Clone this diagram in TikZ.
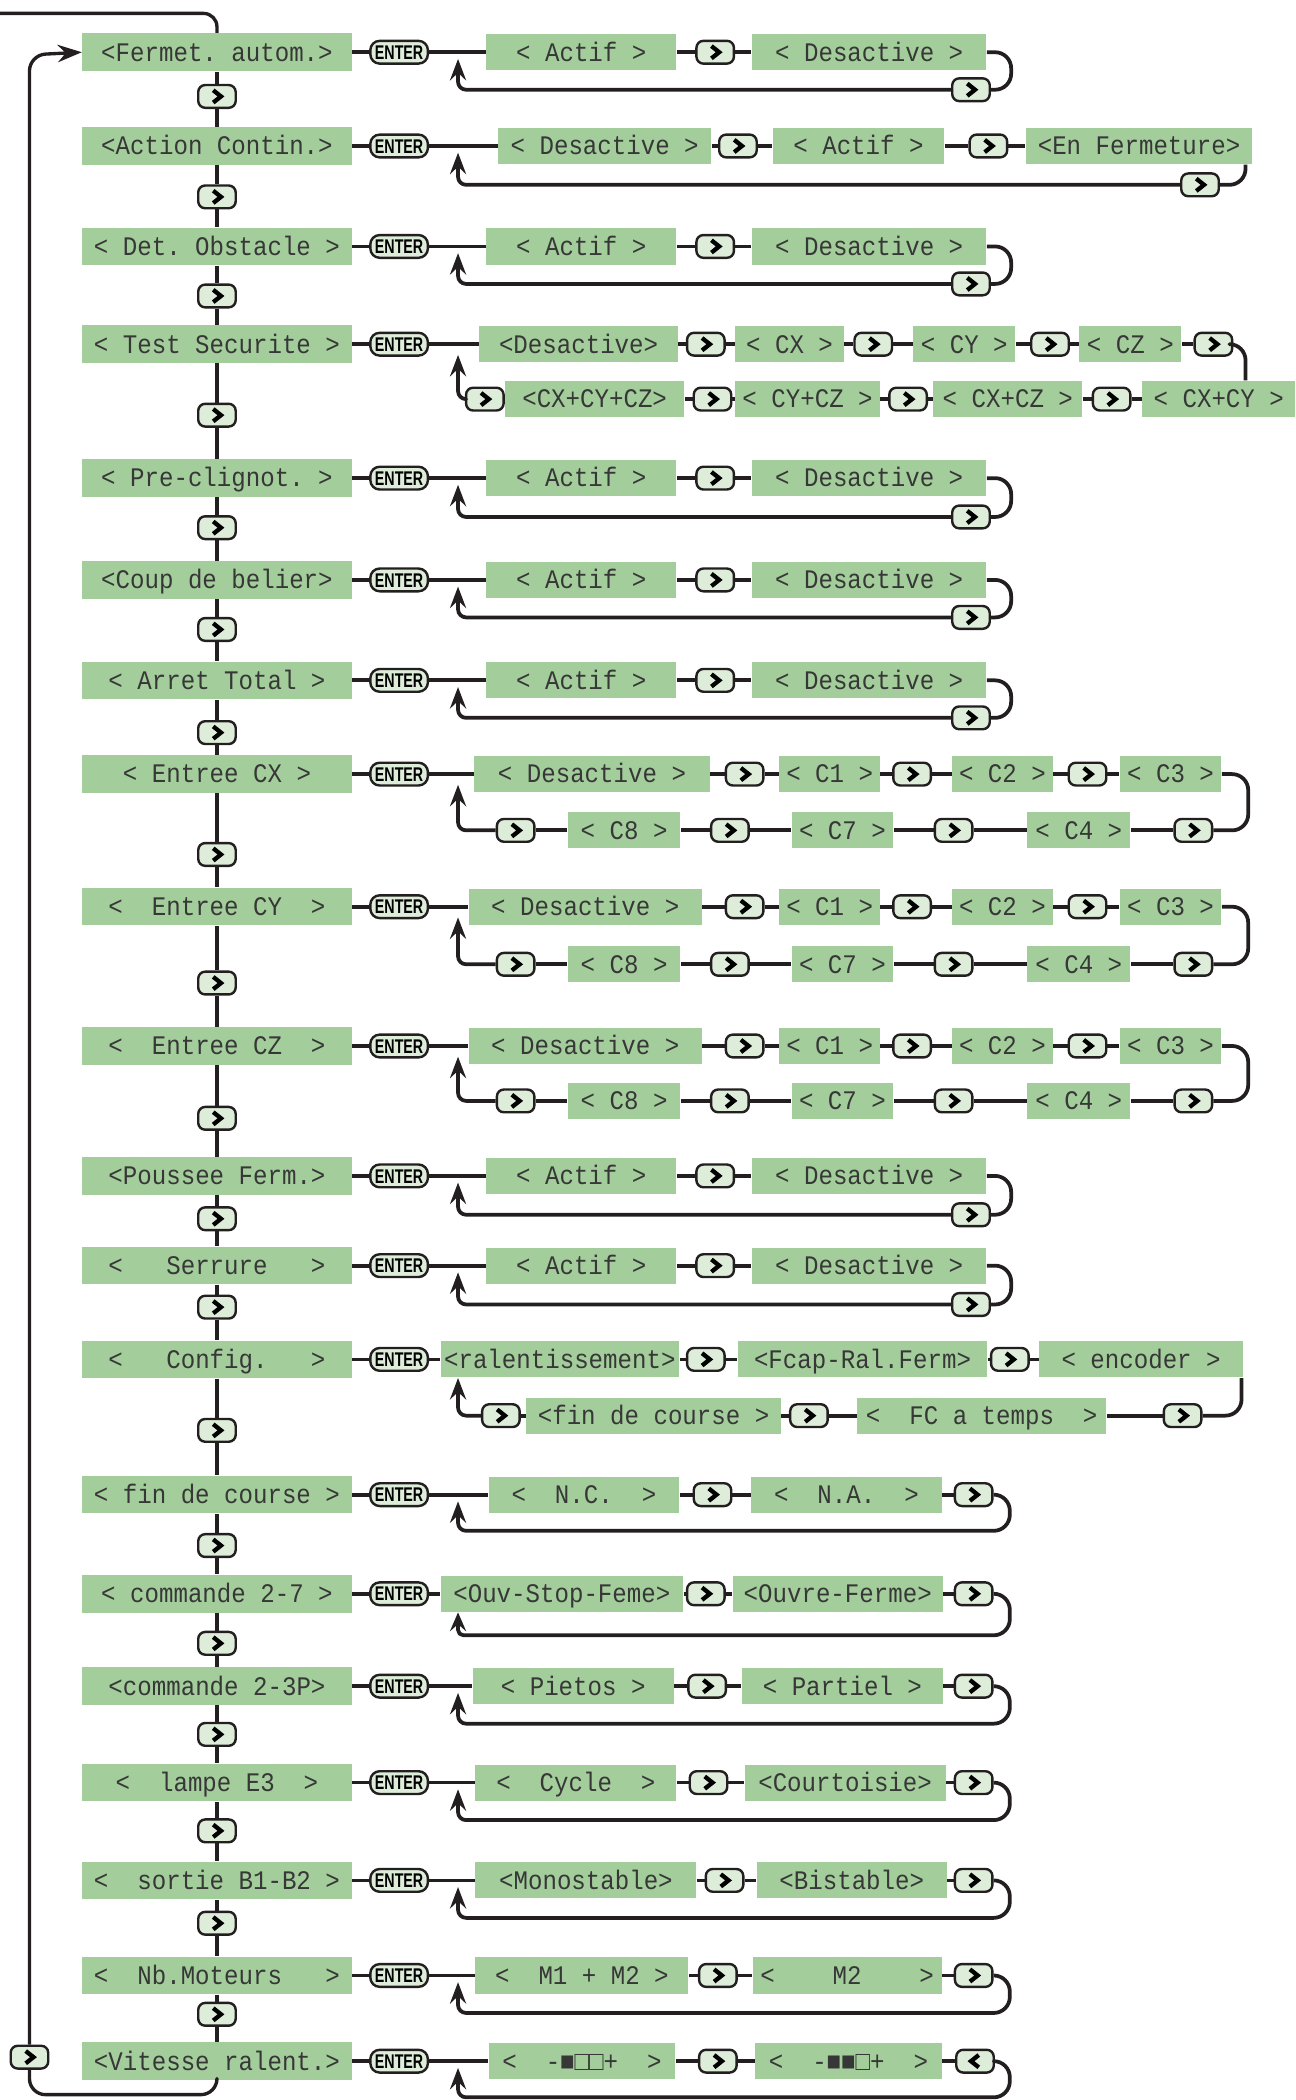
\documentclass[tikz,border=0pt]{standalone}
\usepackage{fontspec}
\usetikzlibrary{arrows.meta}
\newfontfamily\lcd[FakeStretch=0.9]{Liberation Mono}
\newfontfamily\entfont[FakeStretch=0.72]{Liberation Sans}
\definecolor{lcdgreen}{RGB}{163,206,155}
\definecolor{btnfill}{RGB}{222,237,217}
\definecolor{linec}{RGB}{35,31,32}
\definecolor{lcdtext}{RGB}{55,55,55}
\tikzset{
  conn/.style={draw=linec, line width=1.4pt, line join=round},
  arr/.style={-{Stealth[length=8pt,width=6pt,inset=2.8pt]}},
  lcdbox/.style={fill=lcdgreen, inner sep=0pt, text=lcdtext,
    font=\lcd\fontsize{10}{10}\selectfont, text height=7.4pt, text depth=0.8pt},
  menu/.style={lcdbox, minimum width=100.5pt, minimum height=14pt},
  opt/.style={lcdbox, minimum width=#1*0.5pt, minimum height=13.5pt},
  btnbase/.style={draw=linec, line width=0.9pt, fill=btnfill, rounded corners=2.6pt,
    minimum width=14pt, minimum height=8.5pt, inner sep=0pt},
  btn/.style={btnbase, path picture={
    \draw[sharp corners, line width=1.6pt, black, line join=miter]
      ([shift={(-1.4pt,2.3pt)}]path picture bounding box.center) --
      ([shift={(1.5pt,0pt)}]path picture bounding box.center) --
      ([shift={(-1.4pt,-2.3pt)}]path picture bounding box.center);}},
  btnl/.style={btnbase, path picture={
    \draw[sharp corners, line width=1.6pt, black, line join=miter]
      ([shift={(1.4pt,2.3pt)}]path picture bounding box.center) --
      ([shift={(-1.5pt,0pt)}]path picture bounding box.center) --
      ([shift={(1.4pt,-2.3pt)}]path picture bounding box.center);}},
  enterbtn/.style={draw=linec, line width=0.9pt, fill=btnfill, rounded corners=3.5pt,
    minimum width=21.5pt, minimum height=8.5pt, inner sep=0pt, text=black,
    font=\entfont\bfseries\fontsize{7.4}{7.4}\selectfont, text height=5.3pt, text depth=0pt},
}
% Actif / Desactive row
\newcommand{\adrow}[3]{%
  \node[enterbtn] (e#1) at (298,#2) {ENTER};
  \node[opt=142] (a#1) at (434,#2) {<~Actif~>};
  \node[btn] (b#1) at (534,#2) {};
  \node[opt=175] (d#1) at (649,#2) {<~Desactive~>};
  \node[btn] (l#1) at (725,#3) {};
  \draw[conn] (m#1) -- (e#1) -- (a#1) -- (b#1) -- (d#1);
  \draw[conn, rounded corners=6pt] (d#1.east) -- (755,#2) -- (755,#3) -- (l#1.east);
  \draw[conn, arr, rounded corners=3pt] (l#1.west) -- (342,#3) -- (342,#2+5);
}
% Entree C* row
\newcommand{\crow}[5]{%
  \node[enterbtn] (e#1) at (298,#2) {ENTER};
  \node[opt=#5] (k#1a) at (#4,#2) {<~Desactive~>};
  \node[btn] (k#1b) at (556,#2) {};
  \node[opt=75] (k#1c) at (619.5,#2) {<~C1~>};
  \node[btn] (k#1d) at (681,#2) {};
  \node[opt=75] (k#1e) at (748.5,#2) {<~C2~>};
  \node[btn] (k#1f) at (812,#2) {};
  \node[opt=76] (k#1g) at (874,#2) {<~C3~>};
  \node[btn] (k#1h) at (891,#3) {};
  \node[opt=77] (k#1i) at (805.5,#3) {<~C4~>};
  \node[btn] (k#1j) at (712,#3) {};
  \node[opt=76] (k#1k) at (629,#3) {<~C7~>};
  \node[btn] (k#1l) at (545,#3) {};
  \node[opt=84] (k#1m) at (466,#3) {<~C8~>};
  \node[btn] (k#1n) at (385,#3) {};
  \draw[conn] (m#1) -- (e#1) -- (k#1a) -- (k#1b) -- (k#1c) -- (k#1d) -- (k#1e) -- (k#1f) -- (k#1g);
  \draw[conn, rounded corners=6pt] (k#1g.east) -- (932,#2) -- (932,#3) -- (k#1h.east);
  \draw[conn] (k#1h) -- (k#1i) -- (k#1j) -- (k#1k) -- (k#1l) -- (k#1m) -- (k#1n);
  \draw[conn, arr, rounded corners=3pt] (k#1n.west) -- (342,#3) -- (342,#2+8);
}
% loop back without button
\newcommand{\tail}[4]{%
  \draw[conn, arr, rounded corners=6pt] (#1.east) -- (754,#2) -- (754,#3)
    [rounded corners=3pt] -- (342,#3) -- (342,#4);
}
\begin{document}
\begin{tikzpicture}[x=0.5pt,y=-0.5pt]
\useasboundingbox (0,0) rectangle (967,1568);

% ---------- main menu column ----------
\node[menu] (m1)  at (162,39)   {<Fermet.~autom.>};
\node[menu] (m2)  at (162,109)  {<Action~Contin.>};
\node[menu] (m3)  at (162,184)  {<~Det.~Obstacle~>};
\node[menu] (m4)  at (162,257)  {<~Test~Securite~>};
\node[menu] (m5)  at (162,357)  {<~Pre-clignot.~>};
\node[menu] (m6)  at (162,433)  {<Coup~de~belier>};
\node[menu] (m7)  at (162,508)  {<~Arret~Total~>};
\node[menu] (m8)  at (162,578)  {<~Entree~CX~>};
\node[menu] (m9)  at (162,677)  {<~~Entree~CY~~>};
\node[menu] (m10) at (162,781)  {<~~Entree~CZ~~>};
\node[menu] (m11) at (162,878)  {<Poussee~Ferm.>};
\node[menu] (m12) at (162,945)  {<~~~Serrure~~~>};
\node[menu] (m13) at (162,1015) {<~~~Config.~~~>};
\node[menu] (m14) at (162,1116) {<~fin~de~course~>};
\node[menu] (m15) at (162,1190) {<~commande~2-7~>};
\node[menu] (m16) at (162,1259) {<commande~2-3P>};
\node[menu] (m17) at (162,1331) {<~~lampe~E3~~>};
\node[menu] (m18) at (162,1404) {<~~sortie~B1-B2~>};
\node[menu] (m19) at (162,1475) {<~~Nb.Moteurs~~~>};
\node[menu] (m20) at (162,1539) {<Vitesse~ralent.>};

\foreach \i/\y in {1/72,2/147,3/221,4/310,5/394,6/470,7/547,8/638,9/734,10/835,
                   11/910,12/976,13/1068,14/1154,15/1227,16/1295,17/1367,18/1436,19/1504}
  \node[btn] (c\i) at (162,\y) {};
\foreach \i [evaluate=\i as \j using int(\i+1)] in {1,...,19}
  \draw[conn] (m\i) -- (c\i) -- (m\j);

% outer return loop
\coordinate (tl) at (0,10);
\node[btn] (lb) at (22,1536) {};
\draw[conn, line width=1.25pt, rounded corners=5pt] (tl) -- (162,10) -- (m1.north);
\draw[conn, line width=1.25pt, rounded corners=6pt] (m20.south) -- (162,1564) -- (22,1564) -- (lb.south);
\draw[conn, line width=1.25pt, rounded corners=6pt, -{Stealth[length=9pt,width=6.5pt,inset=3pt]}]
  (lb.north) -- (22,41) -- (m1.west);

% ---------- rows ----------
\adrow{1}{39}{67}
\adrow{3}{184}{212}
\adrow{5}{357}{386}
\adrow{6}{433}{461}
\adrow{7}{508}{536}
\adrow{11}{878}{907}
\adrow{12}{945}{974}

% row 2
\node[enterbtn] (e2) at (298,109) {ENTER};
\node[opt=159] (a2) at (451.5,109) {<~Desactive~>};
\node[btn] (b2a) at (551,109) {};
\node[opt=128] (d2) at (641,109) {<~Actif~>};
\node[btn] (b2b) at (738,109) {};
\node[opt=169] (f2) at (850.5,109) {<En~Fermeture>};
\node[btn] (l2) at (896,138) {};
\draw[conn] (m2) -- (e2) -- (a2) -- (b2a) -- (d2) -- (b2b) -- (f2);
\draw[conn, rounded corners=6pt] ([xshift=39.75pt]f2.south) -- (930,138) -- (l2.east);
\draw[conn, arr, rounded corners=3pt] (l2.west) -- (342,138) -- (342,114);

% row 4 : Test Securite
\node[enterbtn] (e4) at (298,257) {ENTER};
\node[opt=148] (t1) at (432,257) {<Desactive>};
\node[btn] (tb1) at (527,257) {};
\node[opt=81] (t2) at (589.5,257) {<~CX~>};
\node[btn] (tb2) at (652,257) {};
\node[opt=76] (t3) at (720,257) {<~CY~>};
\node[btn] (tb3) at (784,257) {};
\node[opt=76] (t4) at (844,257) {<~CZ~>};
\node[btn] (tb4) at (906,257) {};
\node[opt=114] (t5) at (910,298) {<~CX+CY~>};
\node[btn] (tb5) at (830,298) {};
\node[opt=111] (t6) at (752.5,298) {<~CX+CZ~>};
\node[btn] (tb6) at (678,298) {};
\node[opt=108] (t7) at (603,298) {<~CY+CZ~>};
\node[btn] (tb7) at (532,298) {};
\node[opt=134] (t8) at (444,298) {<CX+CY+CZ>};
\node[btn] (tb8) at (362,298) {};
\draw[conn] (m4) -- (e4) -- (t1) -- (tb1) -- (t2) -- (tb2) -- (t3) -- (tb3) -- (t4) -- (tb4);
\draw[conn, rounded corners=6pt] (tb4.east) -- (930,257) -- ([xshift=10pt]t5.north);
\draw[conn] (t5) -- (tb5) -- (t6) -- (tb6) -- (t7) -- (tb7) -- (t8) -- (tb8);
\draw[conn, arr, rounded corners=3pt] (tb8.west) -- (342,298) -- (342,265);

% rows 8-10 : Entree CX / CY / CZ
\crow{8}{578}{620}{442}{176}
\crow{9}{677}{720}{437}{174}
\crow{10}{781}{822}{437}{174}

% row 13 : Config
\node[enterbtn] (e13) at (298,1015) {ENTER};
\node[opt=178] (g1) at (418,1015) {<ralentissement>};
\node[btn] (g2) at (527,1015) {};
\node[opt=186] (g3) at (644,1015) {<Fcap-Ral.Ferm>};
\node[btn] (g4) at (754,1015) {};
\node[opt=152] (g5) at (852,1015) {<~encoder~>};
\node[btn] (g6) at (883,1057) {};
\node[opt=186] (g7) at (733,1057) {<~~FC~a~temps~~>};
\node[btn] (g8) at (604,1057) {};
\node[opt=190] (g9) at (488,1057) {<fin~de~course~>};
\node[btn] (g10) at (374,1057) {};
\draw[conn] (m13) -- (e13) -- (g1) -- (g2) -- (g3) -- (g4) -- (g5);
\draw[conn, rounded corners=6pt] ([xshift=37.5pt]g5.south) -- (927,1057) -- (g6.east);
\draw[conn] (g6) -- (g7) -- (g8) -- (g9) -- (g10);
\draw[conn, arr, rounded corners=3pt] (g10.west) -- (342,1057) -- ([xshift=-38pt]g1.south);

% row 14 : fin de course
\node[enterbtn] (e14) at (298,1116) {ENTER};
\node[opt=142] (n1) at (436,1116) {<~~N.C.~~>};
\node[btn] (n2) at (532,1116) {};
\node[opt=142] (n3) at (632,1116) {<~~N.A.~~>};
\node[btn] (n4) at (727,1116) {};
\draw[conn] (m14) -- (e14) -- (n1) -- (n2) -- (n3) -- (n4);
\tail{n4}{1116}{1143}{1121}

% row 15 : commande 2-7
\node[enterbtn] (e15) at (298,1190) {ENTER};
\node[opt=181] (o1) at (419.5,1190) {<Ouv-Stop-Feme>};
\node[btn] (o2) at (527,1190) {};
\node[opt=157] (o3) at (625.5,1190) {<Ouvre-Ferme>};
\node[btn] (o4) at (727,1190) {};
\draw[conn] (m15) -- (e15) -- (o1) -- (o2) -- (o3) -- (o4);
\draw[conn, -{Stealth[length=7pt,width=6pt,inset=2.6pt]}, rounded corners=6pt] (o4.east) -- (754,1190) -- (754,1221)
  [rounded corners=2pt] -- (342,1221) -- ([xshift=-38.75pt]o1.south);

% row 16 : commande 2-3P
\node[enterbtn] (e16) at (298,1259) {ENTER};
\node[opt=150] (p1) at (428,1259) {<~Pietos~>};
\node[btn] (p2) at (528,1259) {};
\node[opt=150] (p3) at (629,1259) {<~Partiel~>};
\node[btn] (p4) at (727,1259) {};
\draw[conn] (m16) -- (e16) -- (p1) -- (p2) -- (p3) -- (p4);
\tail{p4}{1259}{1287}{1264}

% row 17 : lampe E3
\node[enterbtn] (e17) at (298,1331) {ENTER};
\node[opt=150] (q1) at (430,1331) {<~~Cycle~~>};
\node[btn] (q2) at (529,1331) {};
\node[opt=150] (q3) at (631,1331) {<Courtoisie>};
\node[btn] (q4) at (727,1331) {};
\draw[conn] (m17) -- (e17) -- (q1) -- (q2) -- (q3) -- (q4);
\tail{q4}{1331}{1359}{1336}

% row 18 : sortie B1-B2
\node[enterbtn] (e18) at (298,1404) {ENTER};
\node[opt=165] (s1) at (437.5,1404) {<Monostable>};
\node[btn] (s2) at (541,1404) {};
\node[opt=142] (s3) at (636,1404) {<Bistable>};
\node[btn] (s4) at (727,1404) {};
\draw[conn] (m18) -- (e18) -- (s1) -- (s2) -- (s3) -- (s4);
\tail{s4}{1404}{1432}{1409}

% row 19 : Nb.Moteurs
\node[enterbtn] (e19) at (298,1475) {ENTER};
\node[opt=159] (u1) at (434.5,1475) {<~~M1~+~M2~>};
\node[btn] (u2) at (536,1475) {};
\node[opt=141] (u3) at (632.5,1475) {<~~~~M2~~~~>};
\node[btn] (u4) at (727,1475) {};
\draw[conn] (m19) -- (e19) -- (u1) -- (u2) -- (u3) -- (u4);
\tail{u4}{1475}{1503}{1480}

% row 20 : Vitesse ralent.
\node[enterbtn] (e20) at (298,1539) {ENTER};
\node[opt=139] (v1) at (434.5,1539) {<~~-■□□+~~>};
\node[btn] (v2) at (536,1539) {};
\node[opt=139] (v3) at (633.5,1539) {<~~-■■□+~~>};
\node[btnl] (v4) at (728,1539) {};
\draw[conn] (m20) -- (e20) -- (v1) -- (v2) -- (v3) -- (v4);
\tail{v4}{1539}{1566}{1544}

\end{tikzpicture}
\end{document}
